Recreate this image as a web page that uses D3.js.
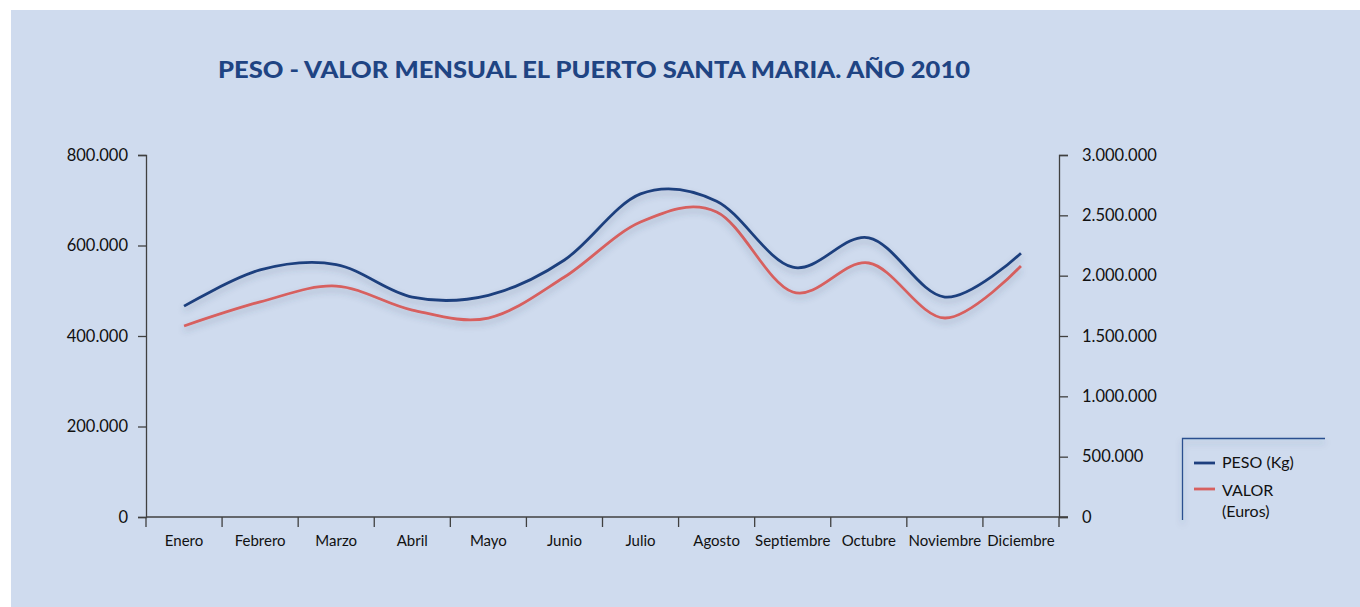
<!DOCTYPE html>
<html><head><meta charset="utf-8">
<script src="https://cdn.jsdelivr.net/npm/d3@7"></script>
<style>
html,body{margin:0;padding:0;background:#fff;}
svg{display:block;}
text{font-family:Lato,"Open Sans",sans-serif;}
</style></head>
<body>
<svg id="c" width="1360" height="607"></svg>
<script>
const months = ["Enero","Febrero","Marzo","Abril","Mayo","Junio","Julio","Agosto","Septiembre","Octubre","Noviembre","Diciembre"];
const peso  = [466000, 546000, 558000, 486000, 490000, 568000, 714000, 698000, 552000, 617000, 486000, 583000];
const valor = [1583000, 1782000, 1914000, 1715000, 1649000, 1989000, 2445000, 2528000, 1865000, 2105000, 1649000, 2080000];
const leftTicks  = [0, 200000, 400000, 600000, 800000];
const rightTicks = [0, 500000, 1000000, 1500000, 2000000, 2500000, 3000000];
const seriesNames = ["PESO (Kg)", "VALOR", "(Euros)"];
const title = "PESO - VALOR MENSUAL EL PUERTO SANTA MARIA. AÑO 2010";

const svg = d3.select("#c");
const fmt = d3.formatLocale({decimal:",", thousands:".", grouping:[3], currency:["","€"]}).format(",d");

svg.append("rect").attr("x",11).attr("y",10).attr("width",1349).attr("height",597).attr("fill","#CFDBEE");

const defs = svg.append("defs");
const f = defs.append("filter").attr("id","sh").attr("x","-10%").attr("y","-30%").attr("width","120%").attr("height","160%");
f.append("feDropShadow").attr("dx",0).attr("dy",4).attr("stdDeviation",3).attr("flood-color","#3a4a6a").attr("flood-opacity",0.28);

const L = 146, R = 1059, T = 155, B = 517;
const x = d3.scaleBand().domain(months).range([L, R]);
const yL = d3.scaleLinear().domain([0, 800000]).range([B, T]);
const yR = d3.scaleLinear().domain([0, 3000000]).range([B, T]);

svg.append("text").attr("x",594).attr("y",78).attr("text-anchor","middle")
  .attr("font-size",22.5).attr("font-weight","900").attr("fill","#1F4483")
  .attr("textLength",752).attr("lengthAdjust","spacingAndGlyphs").text(title);

const axisColor = "#404040";
const gl = svg.append("g").attr("transform",`translate(${L},0)`)
  .call(d3.axisLeft(yL).tickValues(leftTicks).tickFormat(fmt).tickSize(8).tickPadding(10));
const gr = svg.append("g").attr("transform",`translate(${R},0)`)
  .call(d3.axisRight(yR).tickValues(rightTicks).tickFormat(fmt).tickSize(9).tickPadding(14));
const gb = svg.append("g").attr("transform",`translate(0,${B})`)
  .call(d3.axisBottom(x).tickSize(0).tickPadding(18));
[gl,gr,gb].forEach(g=>{
  g.select(".domain").attr("stroke",axisColor).attr("stroke-width",1.3);
  g.selectAll(".tick line").attr("stroke",axisColor).attr("stroke-width",1.3);
  g.selectAll("text").attr("fill","#111").attr("font-family","Lato,'Open Sans',sans-serif");
});
gl.selectAll("text").attr("font-size",16.5);
gr.selectAll("text").attr("font-size",16.5);
gb.selectAll("text").attr("font-size",15);
gb.select(".domain").attr("d",`M${L},0H${R+9}`);
const bounds = months.map(m=>x(m)).concat([R]);
gb.selectAll(".bt").data(bounds).enter().append("line")
  .attr("x1",d=>d).attr("x2",d=>d).attr("y1",0).attr("y2",10)
  .attr("stroke",axisColor).attr("stroke-width",1.3);

const cx = d => x(d) + x.bandwidth()/2;
const linePeso = d3.line().x((d,i)=>cx(months[i])).y(d=>yL(d)).curve(d3.curveCatmullRom.alpha(0));
const lineValor = d3.line().x((d,i)=>cx(months[i])).y(d=>yR(d)).curve(d3.curveCatmullRom.alpha(0));

svg.append("path").datum(valor).attr("d",lineValor).attr("fill","none")
  .attr("stroke","#D7605F").attr("stroke-width",2.8).attr("filter","url(#sh)");
svg.append("path").datum(peso).attr("d",linePeso).attr("fill","none")
  .attr("stroke","#1E3F7E").attr("stroke-width",2.8).attr("filter","url(#sh)");

const lg = svg.append("g");
lg.append("path").attr("d","M1182.5,520V438.5H1325").attr("fill","none")
  .attr("stroke","#2B4F8F").attr("stroke-width",1.3).attr("filter","url(#sh)");
lg.append("line").attr("x1",1194).attr("x2",1215).attr("y1",463).attr("y2",463).attr("stroke","#1E3F7E").attr("stroke-width",2.8);
lg.append("line").attr("x1",1194).attr("x2",1215).attr("y1",489).attr("y2",489).attr("stroke","#D7605F").attr("stroke-width",2.8);
lg.append("text").attr("x",1222).attr("y",468).attr("font-size",16).attr("fill","#111").text(seriesNames[0]);
lg.append("text").attr("x",1222).attr("y",496).attr("font-size",16).attr("fill","#111").text(seriesNames[1]);
lg.append("text").attr("x",1222).attr("y",517).attr("font-size",16).attr("fill","#111").text(seriesNames[2]);
</script>
</body></html>
